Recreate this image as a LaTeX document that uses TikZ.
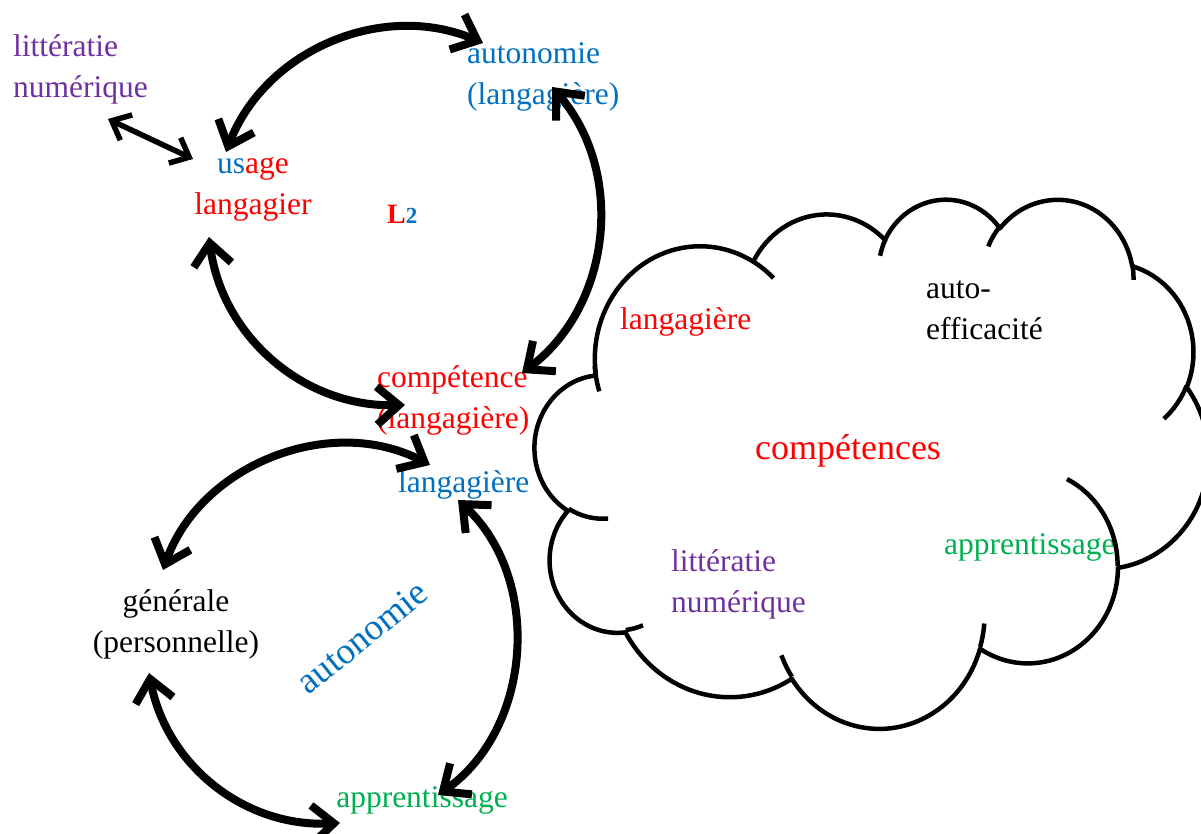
\documentclass[tikz,border=0pt]{standalone}
\usepackage{fontspec}
\setmainfont{Liberation Serif}
\usetikzlibrary{arrows.meta}
\definecolor{cred}{HTML}{FF0000}
\definecolor{cblue}{HTML}{0070C0}
\definecolor{cpurple}{HTML}{7030A0}
\definecolor{cgreen}{HTML}{00B050}
\begin{document}
\begin{tikzpicture}[x=1pt,y=1pt,
  txt/.style={inner sep=0pt, font=\fontsize{31.5}{41}\selectfont},
  bigarrow/.style={line width=8pt, {Straight Barb[length=22pt,width=38pt]}-{Straight Barb[length=22pt,width=38pt]}},
  smallarrow/.style={line width=5.5pt, {Straight Barb[length=16pt,width=28pt]}-{Straight Barb[length=16pt,width=28pt]}},
  cloudline/.style={line width=4.5pt, line join=round}]
\useasboundingbox (0,0) rectangle (1201,834);
\clip (0,0) rectangle (1201,834);

% ---------- texts ----------
\node[txt, text=cpurple, anchor=base west] (lit1) at (13,777) {littératie};
\node[txt, text=cpurple, anchor=base west] (lit2) at (13,736) {numérique};
\node[txt, text=cblue, anchor=base west] (aut1) at (467,770) {autonomie};
\node[txt, text=cblue, anchor=base west] (aut2) at (467,729) {(langagière)};
\node[txt, anchor=base] (usa1) at (253,660) {\textcolor{cblue}{us}\textcolor{cred}{age}};
\node[txt, text=cred, anchor=base] (usa2) at (253,619) {langagier};
\node[inner sep=0pt, anchor=base west, font=\fontsize{28}{32}\selectfont\bfseries] (ltwo) at (387,610) {\textcolor{cred}{L}\textcolor{cblue}{\fontsize{23}{26}\selectfont 2}};
\node[txt, text=cred, anchor=base west] (comp1) at (377,446) {compétence};
\node[txt, text=cred, anchor=base west] (comp2) at (377,405) {(langagière)};
\node[txt, text=cblue, anchor=base west] (lang) at (398,341) {langagière};
\node[txt, anchor=base] (gen1) at (176,222) {générale};
\node[txt, anchor=base] (gen2) at (176,181) {(personnelle)};
\node[txt, text=cgreen, anchor=base] (app) at (422,26) {apprentissage};
\node[inner sep=0pt, text=cblue, rotate=39, font=\fontsize{37}{44}\selectfont] (aut3) at (362,197) {autonomie};

% cloud texts
\node[txt, text=cred, anchor=base west] (cl1) at (620,504) {langagière};
\node[txt, anchor=base west] (cauto1) at (926,535) {auto-};
\node[txt, anchor=base west] (cauto2) at (926,494) {efficacité};
\node[inner sep=0pt, text=cred, anchor=base, font=\fontsize{36}{43}\selectfont] (ccomp) at (848,374) {compétences};
\node[txt, text=cgreen, anchor=base west] (capp) at (944,279) {apprentissage};
\node[txt, text=cpurple, anchor=base west] (clit1) at (671,262) {littératie};
\node[txt, text=cpurple, anchor=base west] (clit2) at (671,221) {numérique};

% ---------- arrow end points ----------
\coordinate (tUa) at (226,682);
\coordinate (tAa) at (483,791);
\coordinate (tAb) at (552,747);
\coordinate (tCa) at (522,461);
\coordinate (tCb) at (405,429);
\coordinate (tUb) at (209,597);
\coordinate (tLa) at (430,369);
\coordinate (tGa) at (163,264);
\coordinate (tLb) at (458,334);
\coordinate (tPa) at (438,39);
\coordinate (tGb) at (149,161);
\coordinate (tPb) at (340,11);
\coordinate (tLit1) at (108,715);
\coordinate (tLit2) at (193,675);

% ---------- arrows ----------
\draw[bigarrow] (tUa) to[bend left=46] (tAa);
\draw[bigarrow] (tAb) to[bend left=47] (tCa);
\draw[bigarrow] (tUb) to[bend right=42] (tCb);
\draw[bigarrow] (tLa) to[bend right=49] (tGa);
\draw[bigarrow] (tLb) to[bend left=51] (tPa);
\draw[bigarrow] (tGb) to[bend right=41] (tPb);
\draw[smallarrow] (tLit1) -- (tLit2);

% ---------- cloud ----------
\draw[cloudline] (595.79,460.04)
 arc[start angle=-172.25, delta angle=-128.11, x radius=105.25, y radius=112.53]
 arc[start angle=152.02, delta angle=-106.57, x radius=83.12, y radius=88.98]
 arc[start angle=153.49, delta angle=-116.16, x radius=68.03, y radius=72.80]
 arc[start angle=139.70, delta angle=-129.48, x radius=75.70, y radius=80.76]
 arc[start angle=74.77, delta angle=-97.98, x radius=83.12, y radius=89.06]
 arc[start angle=37.53, delta angle=-119.39, x radius=105.60, y radius=112.90]
 arc[start angle=-0.46, delta angle=-121.53, x radius=90.17, y radius=96.33]
 arc[start angle=-16.85, delta angle=-129.38, x radius=105.24, y radius=112.84]
 arc[start angle=-58.98, delta angle=-91.20, x radius=120.32, y radius=129.10]
 arc[start angle=-83.31, delta angle=-139.81, x radius=67.95, y radius=72.47]
 arc[start angle=-120.35, delta angle=-143.76, x radius=67.72, y radius=72.80]
 -- cycle;
\draw[cloudline] (608.14,315.46) arc[start angle=-85.55, delta angle=-34.80, x radius=67.72, y radius=72.80];
\draw[cloudline] (642.98,208.66) arc[start angle=-68.23, delta angle=-15.08, x radius=67.95, y radius=72.47];
\draw[cloudline] (791.83,157.34) arc[start angle=-146.23, delta angle=-12.24, x radius=105.24, y radius=112.84];
\draw[cloudline] (984.30,210.47) arc[start angle=-4.74, delta angle=-12.11, x radius=105.24, y radius=112.84];
\draw[cloudline] (1066.93,354.93) arc[start angle=64.03, delta angle=-64.49, x radius=90.17, y radius=96.33];
\draw[cloudline] (1186.46,447.99) arc[start angle=-23.21, delta angle=-26.44, x radius=83.12, y radius=89.06];
\draw[cloudline] (1132.32,569.56) arc[start angle=10.22, delta angle=-11.04, x radius=75.70, y radius=80.76];
\draw[cloudline] (988.21,587.61) arc[start angle=156.29, delta angle=-16.59, x radius=75.70, y radius=80.76];
\draw[cloudline] (880.09,578.20) arc[start angle=167.72, delta angle=-14.23, x radius=68.03, y radius=72.80];
\draw[cloudline] (753.20,572.42) arc[start angle=59.64, delta angle=-13.89, x radius=105.25, y radius=112.53];
\draw[cloudline] (599.32,442.66) arc[start angle=-162.38, delta angle=-13.20, x radius=105.25, y radius=112.53];
\end{tikzpicture}
\end{document}
